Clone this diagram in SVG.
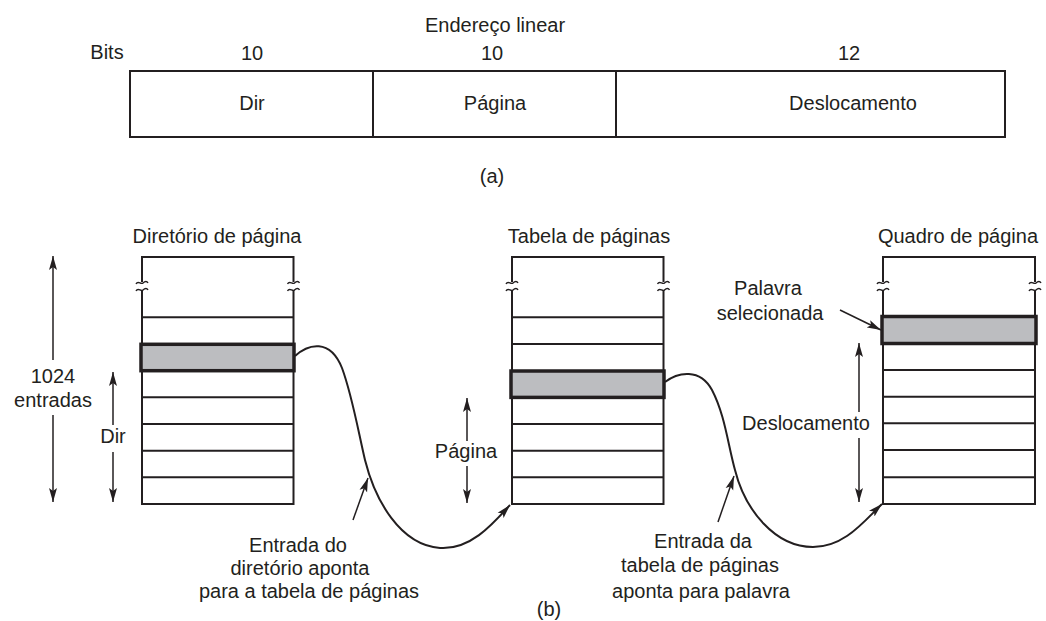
<svg xmlns="http://www.w3.org/2000/svg" width="1046" height="621" viewBox="0 0 1046 621">
<style>
text{font-family:"Liberation Sans",Arial,sans-serif;font-size:20px;fill:#231f20;text-anchor:middle}
.box{fill:#fff;stroke:#231f20;stroke-width:2}
.row{stroke:#231f20;stroke-width:2}
.hl{fill:#bcbdc0;stroke:#231f20;stroke-width:3.5}
.ln{fill:none;stroke:#231f20;stroke-width:1.5}
.cv{fill:none;stroke:#231f20;stroke-width:2}
.sq{fill:none;stroke:#231f20;stroke-width:1.4}
</style>
<defs>
<marker id="ah" markerWidth="16" markerHeight="10" refX="14" refY="5" orient="auto" markerUnits="userSpaceOnUse">
<path d="M0,1 L14,5 L0,9 L3,5 Z" fill="#231f20"/>
</marker>
<g id="sqz">
<rect x="-7" y="-4" width="14" height="8" fill="#fff"/>
<path class="sq" d="M-6,-2 C-4,-6 -1,-1 1,-3 C3,-5 5,-5 6,-3 M-6,5 C-4,1 -1,6 1,4 C3,2 5,2 6,4"/>
</g>
</defs>

<g id="linear-address">
<text x="495" y="32">Endereço linear</text>
<text x="107" y="59">Bits</text>
<text x="252" y="60">10</text>
<text x="492" y="60">10</text>
<text x="849" y="60">12</text>
<rect class="box" x="130" y="71" width="875" height="66"/>
<line class="row" x1="373" y1="71" x2="373" y2="137"/>
<line class="row" x1="616" y1="71" x2="616" y2="137"/>
<text x="252" y="110">Dir</text>
<text x="495" y="110">Página</text>
<text x="853" y="110">Deslocamento</text>
<text x="492" y="183">(a)</text>
</g>

<g id="page-directory">
<text x="217" y="243">Diretório de página</text>
<rect class="box" x="142" y="257" width="151.5" height="247"/>
<use href="#sqz" x="142" y="286"/>
<use href="#sqz" x="293.5" y="286"/>
<line class="row" x1="142" y1="317.3" x2="293.5" y2="317.3"/>
<line class="row" x1="142" y1="397.3" x2="293.5" y2="397.3"/>
<line class="row" x1="142" y1="424" x2="293.5" y2="424"/>
<line class="row" x1="142" y1="450.7" x2="293.5" y2="450.7"/>
<line class="row" x1="142" y1="477.3" x2="293.5" y2="477.3"/>
<rect class="hl" x="141" y="344.3" width="153" height="26.4"/>
</g>

<g id="page-table">
<text x="589" y="243">Tabela de páginas</text>
<rect class="box" x="512" y="257" width="151.5" height="247"/>
<use href="#sqz" x="512" y="286"/>
<use href="#sqz" x="663.5" y="286"/>
<line class="row" x1="512" y1="317.3" x2="663.5" y2="317.3"/>
<line class="row" x1="512" y1="344" x2="663.5" y2="344"/>
<line class="row" x1="512" y1="424" x2="663.5" y2="424"/>
<line class="row" x1="512" y1="450.7" x2="663.5" y2="450.7"/>
<line class="row" x1="512" y1="477.3" x2="663.5" y2="477.3"/>
<rect class="hl" x="511" y="371" width="153" height="26.4"/>
</g>

<g id="page-frame">
<text x="958" y="243">Quadro de página</text>
<rect class="box" x="883" y="257" width="152" height="247"/>
<use href="#sqz" x="883" y="286"/>
<use href="#sqz" x="1035" y="286"/>
<line class="row" x1="883" y1="370" x2="1035" y2="370"/>
<line class="row" x1="883" y1="396.7" x2="1035" y2="396.7"/>
<line class="row" x1="883" y1="423.3" x2="1035" y2="423.3"/>
<line class="row" x1="883" y1="450" x2="1035" y2="450"/>
<line class="row" x1="883" y1="477.3" x2="1035" y2="477.3"/>
<rect class="hl" x="882" y="316.5" width="154" height="27"/>
</g>

<g id="dimensions">
<line class="ln" x1="53" y1="360" x2="53" y2="256" marker-end="url(#ah)"/>
<line class="ln" x1="53" y1="415" x2="53" y2="502" marker-end="url(#ah)"/>
<text x="53" y="383">1024</text>
<text x="53" y="407">entradas</text>
<line class="ln" x1="113" y1="425" x2="113" y2="372" marker-end="url(#ah)"/>
<line class="ln" x1="113" y1="452" x2="113" y2="502" marker-end="url(#ah)"/>
<text x="113" y="443">Dir</text>
<line class="ln" x1="467" y1="441" x2="467" y2="398" marker-end="url(#ah)"/>
<line class="ln" x1="467" y1="466" x2="467" y2="503" marker-end="url(#ah)"/>
<text x="466" y="458">Página</text>
<line class="ln" x1="859" y1="412" x2="859" y2="343" marker-end="url(#ah)"/>
<line class="ln" x1="859" y1="438" x2="859" y2="502" marker-end="url(#ah)"/>
<text x="806" y="430">Deslocamento</text>
<text x="768" y="295">Palavra</text>
<text x="770" y="320">selecionada</text>
</g>

<g id="connectors">
<path class="cv" d="M295,356 C308,344 330,338 342,368 C352,395 358,430 365,460 C375,500 400,545 440,548 C470,550 492,525 510,505" marker-end="url(#ah)"/>
<path class="cv" d="M665,382 C678,372 700,368 712,390 C725,415 728,445 735,470 C745,510 775,547 813,547 C845,547 865,520 882,504" marker-end="url(#ah)"/>
<line class="ln" x1="353" y1="520" x2="368" y2="478" marker-end="url(#ah)"/>
<line class="ln" x1="718" y1="522" x2="734" y2="476" marker-end="url(#ah)"/>
<line class="ln" x1="840" y1="310" x2="881" y2="330" marker-end="url(#ah)"/>
</g>

<g id="labels-b">
<text x="298" y="552">Entrada do</text>
<text x="300" y="575">diretório aponta</text>
<text x="309" y="598">para a tabela de páginas</text>
<text x="703" y="548">Entrada da</text>
<text x="700" y="572">tabela de páginas</text>
<text x="701" y="598">aponta para palavra</text>
<text x="549" y="616">(b)</text>
</g>
</svg>
